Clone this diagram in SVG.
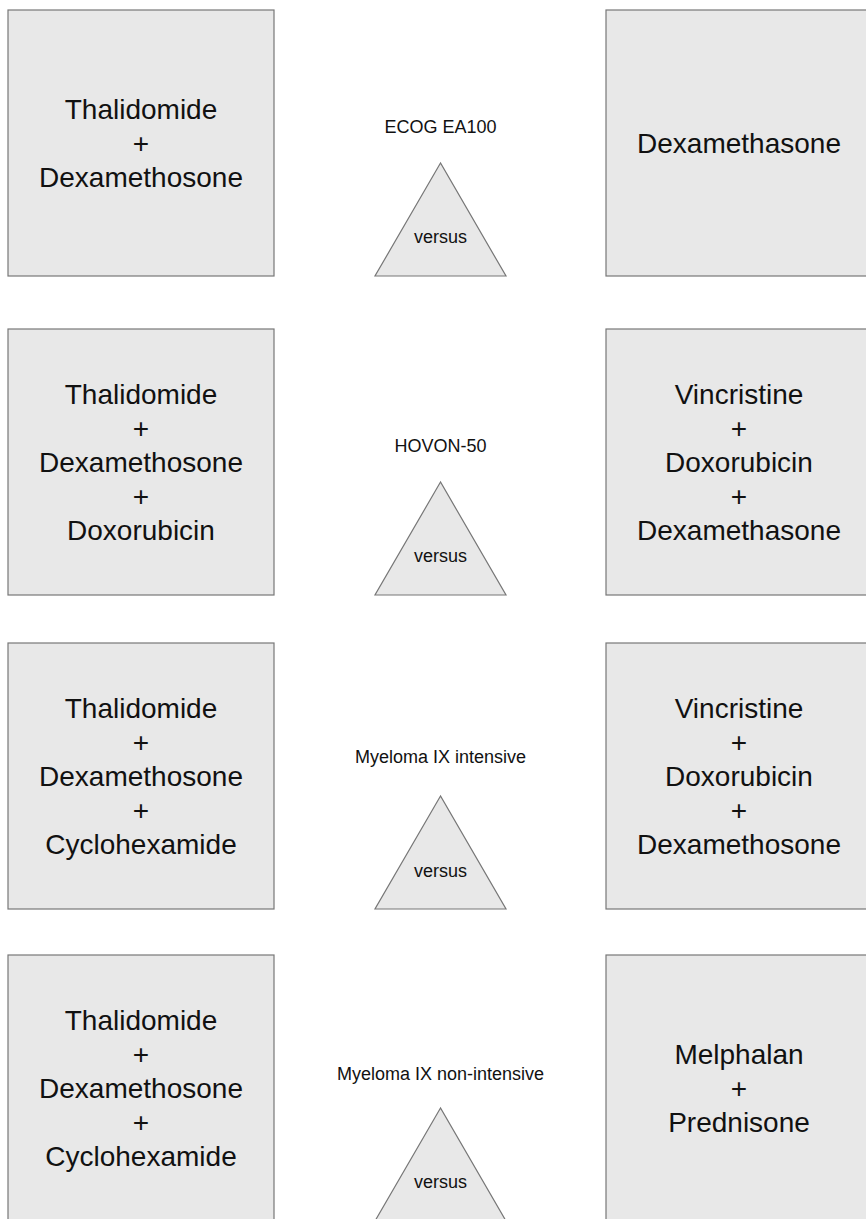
<svg xmlns="http://www.w3.org/2000/svg" width="866" height="1219" viewBox="0 0 866 1219">
<style>
.box{fill:#e8e8e8;stroke:#777;stroke-width:1.2}
.tri{fill:#e8e8e8;stroke:#777;stroke-width:1.2}
.big{font-family:"Liberation Sans",Arial,sans-serif;font-size:28px;fill:#111;text-anchor:middle}
.lab{font-family:"Liberation Sans",Arial,sans-serif;font-size:18px;fill:#111;text-anchor:middle}
</style>
<rect width="866" height="1219" fill="#fff"/>
<g id="connectors"/>
<!-- Row 1 -->
<g id="r1-left">
<rect class="box" x="8" y="10" width="266" height="266"/>
<text class="big" x="141" y="119">Thalidomide</text>
<text class="big" x="141" y="153">+</text>
<text class="big" x="141" y="187">Dexamethosone</text>
</g>
<g id="r1-mid">
<text class="lab" x="440.5" y="133">ECOG EA100</text>
<polygon class="tri" points="440.5,163 375,276 506,276"/>
<text class="lab" x="440.5" y="243">versus</text>
</g>
<g id="r1-right">
<rect class="box" x="606" y="10" width="266" height="266"/>
<text class="big" x="739" y="153">Dexamethasone</text>
</g>
<!-- Row 2 -->
<g id="r2-left">
<rect class="box" x="8" y="329" width="266" height="266"/>
<text class="big" x="141" y="404">Thalidomide</text>
<text class="big" x="141" y="438">+</text>
<text class="big" x="141" y="472">Dexamethosone</text>
<text class="big" x="141" y="506">+</text>
<text class="big" x="141" y="540">Doxorubicin</text>
</g>
<g id="r2-mid">
<text class="lab" x="440.5" y="452">HOVON-50</text>
<polygon class="tri" points="440.5,482 375,595 506,595"/>
<text class="lab" x="440.5" y="562">versus</text>
</g>
<g id="r2-right">
<rect class="box" x="606" y="329" width="266" height="266"/>
<text class="big" x="739" y="404">Vincristine</text>
<text class="big" x="739" y="438">+</text>
<text class="big" x="739" y="472">Doxorubicin</text>
<text class="big" x="739" y="506">+</text>
<text class="big" x="739" y="540">Dexamethasone</text>
</g>
<!-- Row 3 -->
<g id="r3-left">
<rect class="box" x="8" y="643" width="266" height="266"/>
<text class="big" x="141" y="718">Thalidomide</text>
<text class="big" x="141" y="752">+</text>
<text class="big" x="141" y="786">Dexamethosone</text>
<text class="big" x="141" y="820">+</text>
<text class="big" x="141" y="854">Cyclohexamide</text>
</g>
<g id="r3-mid">
<text class="lab" x="440.5" y="763">Myeloma IX intensive</text>
<polygon class="tri" points="440.5,796 375,909 506,909"/>
<text class="lab" x="440.5" y="877">versus</text>
</g>
<g id="r3-right">
<rect class="box" x="606" y="643" width="266" height="266"/>
<text class="big" x="739" y="718">Vincristine</text>
<text class="big" x="739" y="752">+</text>
<text class="big" x="739" y="786">Doxorubicin</text>
<text class="big" x="739" y="820">+</text>
<text class="big" x="739" y="854">Dexamethosone</text>
</g>
<!-- Row 4 -->
<g id="r4-left">
<rect class="box" x="8" y="955" width="266" height="266"/>
<text class="big" x="141" y="1030">Thalidomide</text>
<text class="big" x="141" y="1064">+</text>
<text class="big" x="141" y="1098">Dexamethosone</text>
<text class="big" x="141" y="1132">+</text>
<text class="big" x="141" y="1166">Cyclohexamide</text>
</g>
<g id="r4-mid">
<text class="lab" x="440.5" y="1080">Myeloma IX non-intensive</text>
<polygon class="tri" points="440.5,1108 375,1221 506,1221"/>
<text class="lab" x="440.5" y="1188">versus</text>
</g>
<g id="r4-right">
<rect class="box" x="606" y="955" width="266" height="266"/>
<text class="big" x="739" y="1064">Melphalan</text>
<text class="big" x="739" y="1098">+</text>
<text class="big" x="739" y="1132">Prednisone</text>
</g>
</svg>
